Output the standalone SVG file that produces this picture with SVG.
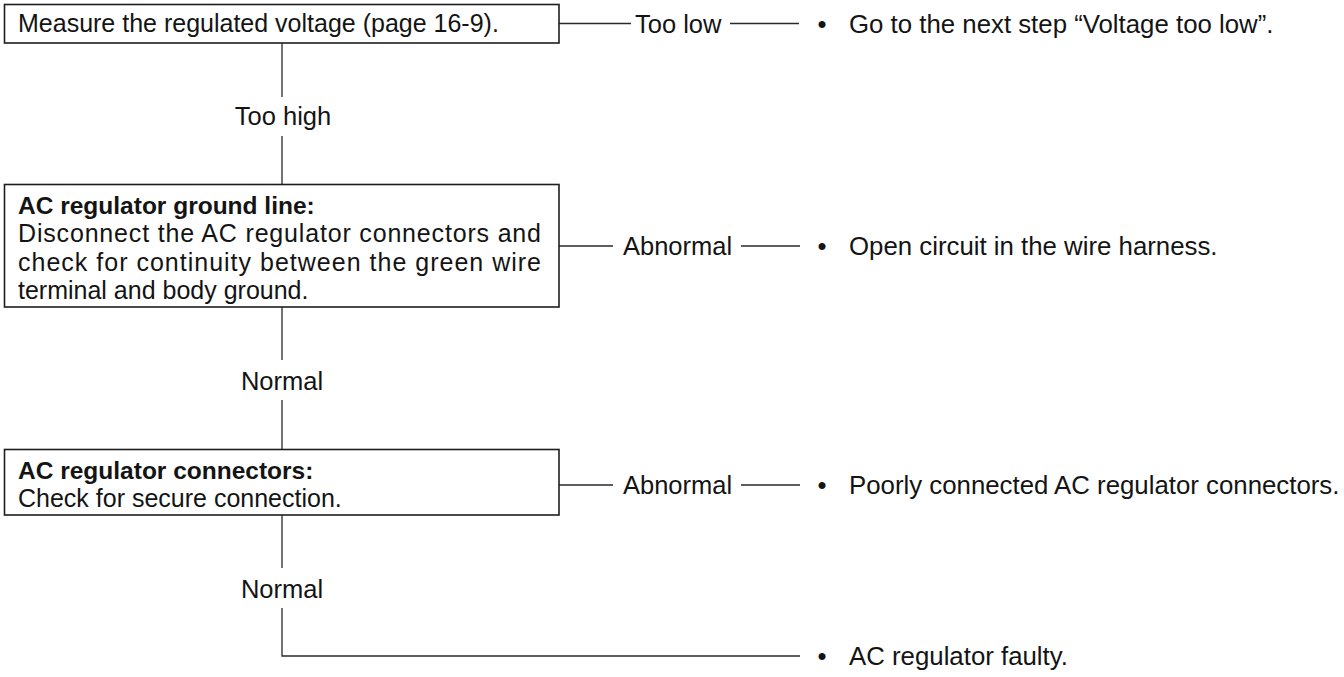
<svg xmlns="http://www.w3.org/2000/svg" width="1344" height="677" viewBox="0 0 1344 677">
<style>
text{font-family:"Liberation Sans",Arial,sans-serif;font-size:25px;fill:#141414}
.b{font-weight:bold;font-size:24.5px}
.m{text-anchor:middle}
.lab{font-size:25.5px}
.res{font-size:25.8px}
.box{fill:#fff;stroke:#1e1e1e;stroke-width:1.6}
.ln{stroke:#2a2a2a;stroke-width:1.3;fill:none}
</style>
<rect width="1344" height="677" fill="#fff"/>
<g id="connectors">
<path class="ln" d="M559 23.5H631M730 23.5H799"/>
<path class="ln" d="M282 43V97M282 136V184"/>
<path class="ln" d="M559 246H613M741 246H800"/>
<path class="ln" d="M282 307V360M282 400V449"/>
<path class="ln" d="M559 485H613M741 485H800"/>
<path class="ln" d="M282 515V568M282 608V656H800"/>
</g>
<g id="labels">
<text class="lab" x="635" y="32.5">Too low</text>
<text class="lab m" x="283" y="125">Too high</text>
<text class="lab" x="623" y="255">Abnormal</text>
<text class="lab m" x="282" y="390">Normal</text>
<text class="lab" x="623" y="494">Abnormal</text>
<text class="lab m" x="282" y="598">Normal</text>
</g>
<g id="node-measure">
<rect class="box" x="4.5" y="4.5" width="554.5" height="38.5"/>
<text x="18" y="32">Measure the regulated voltage (page 16-9).</text>
</g>
<g id="node-ground-line">
<rect class="box" x="4.5" y="184.5" width="554.5" height="122.5"/>
<text class="b" x="18" y="214">AC regulator ground line:</text>
<text x="18" y="242" textLength="523" lengthAdjust="spacing">Disconnect the AC regulator connectors and</text>
<text x="18" y="270.5" textLength="523" lengthAdjust="spacing">check for continuity between the green wire</text>
<text x="18" y="298.5">terminal and body ground.</text>
</g>
<g id="node-connectors">
<rect class="box" x="4.5" y="449.5" width="554.5" height="65.5"/>
<text class="b" x="18" y="479">AC regulator connectors:</text>
<text x="18" y="507">Check for secure connection.</text>
</g>
<g id="result-too-low">
<text class="res m" x="822" y="32.5">•</text>
<text class="res" x="849" y="32.5">Go to the next step “Voltage too low”.</text>
</g>
<g id="result-open-circuit">
<text class="res m" x="822" y="255">•</text>
<text class="res" x="849" y="255">Open circuit in the wire harness.</text>
</g>
<g id="result-poor-connection">
<text class="res m" x="822" y="494">•</text>
<text class="res" x="849" y="494">Poorly connected AC regulator connectors.</text>
</g>
<g id="result-faulty">
<text class="res m" x="822" y="665">•</text>
<text class="res" x="849" y="665">AC regulator faulty.</text>
</g>
</svg>
